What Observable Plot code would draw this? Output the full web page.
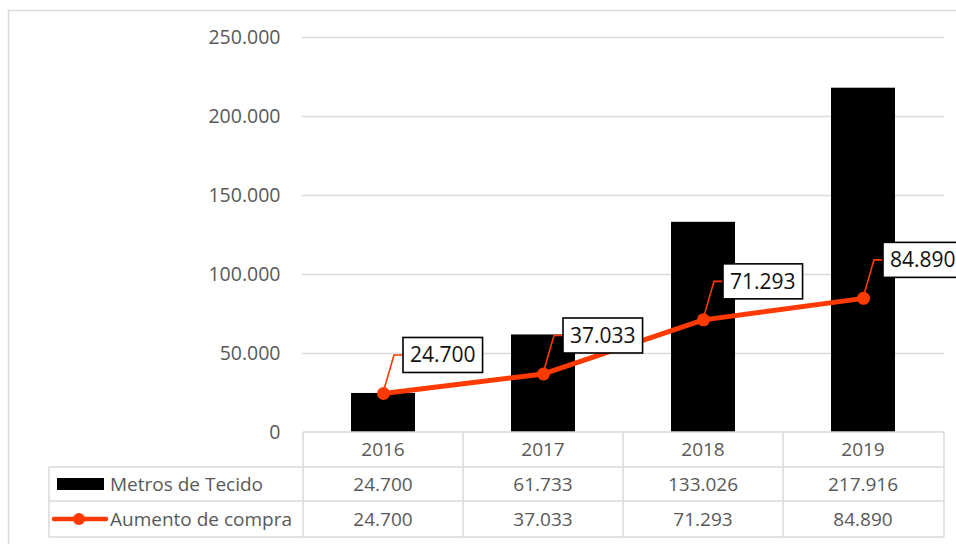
<!DOCTYPE html>
<html><head><meta charset="utf-8">
<script src="https://cdn.jsdelivr.net/npm/d3@7"></script>
<script src="https://cdn.jsdelivr.net/npm/@observablehq/plot@0.6"></script>
<style>
html,body{margin:0;padding:0;background:#fff;overflow:hidden;}
#chart{width:956px;height:544px;overflow:hidden;}
</style></head><body><div id="chart"></div>
<script>
// ---- data ----
const years = ["2016", "2017", "2018", "2019"];
const metros = [24700, 61733, 133026, 217916];
const aumento = [24700, 37033, 71293, 84890];
const seriesNames = ["Metros de Tecido", "Aumento de compra"];
const yTicks = [0, 50000, 100000, 150000, 200000, 250000];

const locale = d3.formatLocale({decimal: ",", thousands: ".", grouping: [3], currency: ["", ""]});
const fmt = locale.format(",d");
const data = years.map((y, i) => ({year: y, metros: metros[i], aumento: aumento[i]}));

// ---- style ----
const W = 956, H = 544;
const FONT = "'Open Sans', sans-serif";
const RED = "#fe3a00", GRID = "#d9d9d9", TXT = "#595959";

function bandInfo(x) {
  const bw = typeof x.bandwidth === "function" ? x.bandwidth() : (x.bandwidth || 0);
  const step = x(years[1]) - x(years[0]);
  return {bw, step};
}

function border(index, scales, values, dim) {
  return d3.create("svg:rect")
    .attr("x", 8.5).attr("y", 10.5).attr("width", 1000).attr("height", 1000)
    .attr("fill", "none").attr("stroke", GRID).attr("stroke-width", 1.5).node();
}

function tableMark(index, scales, values, dim) {
  const x = scales.x;
  const {bw, step} = bandInfo(x);
  const g = d3.create("svg:g").attr("font-family", FONT).attr("font-size", 19);
  const top = dim.height - dim.marginBottom;
  const rows = [top, top + 35, top + 69, top + 105];
  const left = 49, right = dim.width - dim.marginRight;
  const cellL = d => x(d) - (step - bw) / 2;
  const edges = years.map(cellL).concat([right]);
  const ln = (x1, y1, x2, y2) => g.append("line").attr("x1", x1).attr("y1", y1).attr("x2", x2).attr("y2", y2)
    .attr("stroke", GRID).attr("stroke-width", 1.5);
  ln(edges[0], rows[0], right, rows[0]);
  for (let r = 1; r < 4; r++) ln(left, rows[r], right, rows[r]);
  edges.forEach(e => ln(e, rows[0], e, rows[3]));
  ln(left, rows[1], left, rows[3]);
  const mid = r => (rows[r] + rows[r + 1]) / 2;
  const txt = (tx, ty, s, anchor) => g.append("text").attr("x", tx).attr("y", ty).attr("dy", "0.35em")
    .attr("text-anchor", anchor).attr("fill", TXT).text(s);
  years.forEach((yr, i) => {
    const cx = x(yr) + bw / 2;
    txt(cx, mid(0), yr, "middle");
    txt(cx, mid(1), fmt(metros[i]), "middle");
    txt(cx, mid(2), fmt(aumento[i]), "middle");
  });
  // legend keys
  g.append("rect").attr("x", 57).attr("y", mid(1) - 6).attr("width", 47).attr("height", 12).attr("fill", "#000");
  g.append("line").attr("x1", 54).attr("x2", 106).attr("y1", mid(2)).attr("y2", mid(2))
    .attr("stroke", RED).attr("stroke-width", 4.5).attr("stroke-linecap", "round");
  g.append("circle").attr("cx", 79).attr("cy", mid(2)).attr("r", 6).attr("fill", RED);
  txt(110, mid(1), seriesNames[0], "start");
  txt(110, mid(2), seriesNames[1], "start");
  return g.node();
}

function calloutMark(index, scales, values, dim) {
  const x = scales.x, y = scales.y;
  const {bw} = bandInfo(x);
  const g = d3.create("svg:g").attr("font-family", FONT).attr("font-size", 21);
  years.forEach((yr, i) => {
    const px = x(yr) + bw / 2, py = y(aumento[i]);
    const bx = px + 20, by = py - 38;
    const c = g.append("g").attr("class", "callout");
    c.append("polyline").attr("points", `${px},${py} ${px + 11},${by} ${bx},${by}`)
      .attr("fill", "none").attr("stroke", RED).attr("stroke-width", 1.6);
    c.append("rect").attr("x", bx).attr("y", by - 17.5).attr("height", 35).attr("width", 78)
      .attr("fill", "#fff").attr("stroke", "#000").attr("stroke-width", 1.6);
    c.append("text").attr("x", bx + 7).attr("y", by).attr("dy", "0.35em").attr("fill", "#111")
      .attr("text-anchor", "start").text(fmt(aumento[i]));
  });
  return g.node();
}

const plot = Plot.plot({
  width: W, height: H,
  marginLeft: 302, marginRight: 12, marginTop: 37, marginBottom: 112,
  style: {fontFamily: FONT, fontSize: "19.5px", color: TXT, background: "#fff"},
  x: {domain: years, paddingInner: 0.6, paddingOuter: 0.3, axis: null},
  y: {domain: [0, 250000], label: null},
  marks: [
    border,
    Plot.gridY(yTicks.slice(1), {stroke: GRID, strokeOpacity: 1, strokeWidth: 1.3}),
    Plot.axisY(yTicks, {tickSize: 0, tickPadding: 22, tickFormat: fmt, fill: TXT, label: null}),
    Plot.barY(data, {x: "year", y: "metros", fill: "#000"}),
    tableMark,
    Plot.line(data, {x: "year", y: "aumento", stroke: RED, strokeWidth: 5}),
    Plot.dot(data, {x: "year", y: "aumento", r: 6.5, fill: RED}),
    calloutMark
  ]
});
document.getElementById("chart").appendChild(plot);

// size the callout boxes to their text
d3.select(plot).selectAll("g.callout").each(function() {
  const t = d3.select(this).select("text").node();
  const b = t.getBBox();
  d3.select(this).select("rect").attr("width", b.width + 14);
});
</script>
</body></html>
